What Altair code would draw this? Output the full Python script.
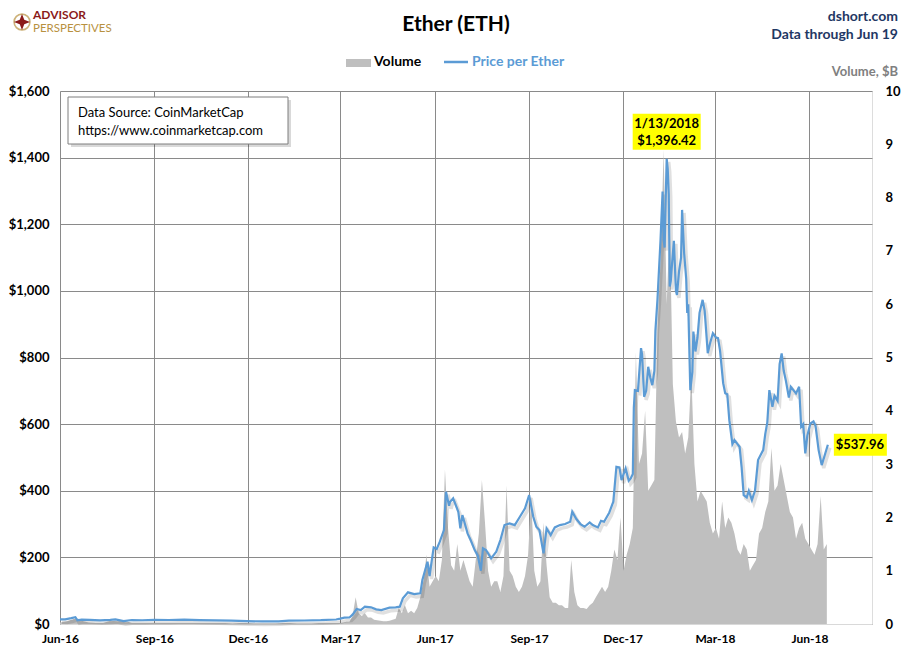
import altair as alt
import pandas as pd

FONT = "Lato"

# ---------------- data ----------------
price_dates = [
    "2016-06-01", "2016-06-06", "2016-06-12", "2016-06-16", "2016-06-18", "2016-06-22", "2016-06-30",
    "2016-07-10", "2016-07-20", "2016-07-25", "2016-08-02", "2016-08-10", "2016-08-20", "2016-09-01",
    "2016-09-15", "2016-09-30", "2016-10-15", "2016-10-31", "2016-11-15", "2016-11-30", "2016-12-15",
    "2016-12-31", "2017-01-10", "2017-01-25", "2017-02-10", "2017-02-25",
    "2017-03-01", "2017-03-05", "2017-03-10", "2017-03-13", "2017-03-17", "2017-03-21", "2017-03-25",
    "2017-03-31", "2017-04-05", "2017-04-10", "2017-04-18", "2017-04-24", "2017-04-28", "2017-05-01",
    "2017-05-06", "2017-05-12", "2017-05-18", "2017-05-20", "2017-05-25", "2017-05-27", "2017-05-31",
    "2017-06-03", "2017-06-06", "2017-06-10", "2017-06-12", "2017-06-15", "2017-06-16", "2017-06-19",
    "2017-06-24", "2017-06-26", "2017-06-28", "2017-07-03", "2017-07-06", "2017-07-10", "2017-07-13",
    "2017-07-16", "2017-07-18", "2017-07-21", "2017-07-26", "2017-07-31", "2017-08-04", "2017-08-08",
    "2017-08-13", "2017-08-18", "2017-08-23", "2017-08-28", "2017-09-01", "2017-09-05", "2017-09-08",
    "2017-09-11", "2017-09-15", "2017-09-18", "2017-09-22", "2017-09-26", "2017-10-01", "2017-10-06",
    "2017-10-11", "2017-10-13", "2017-10-17", "2017-10-21", "2017-10-25", "2017-10-30", "2017-11-02",
    "2017-11-07", "2017-11-10", "2017-11-13", "2017-11-18", "2017-11-22", "2017-11-25", "2017-11-28",
    "2017-11-30", "2017-12-04", "2017-12-07", "2017-12-09", "2017-12-11", "2017-12-12", "2017-12-13",
    "2017-12-16", "2017-12-19", "2017-12-20", "2017-12-22", "2017-12-24", "2017-12-26", "2017-12-28",
    "2017-12-30", "2018-01-01", "2018-01-02", "2018-01-04", "2018-01-07", "2018-01-09", "2018-01-10",
    "2018-01-11", "2018-01-12", "2018-01-13", "2018-01-14", "2018-01-15", "2018-01-16", "2018-01-17",
    "2018-01-18", "2018-01-20", "2018-01-22", "2018-01-23", "2018-01-25", "2018-01-27", "2018-01-28",
    "2018-01-30", "2018-02-01", "2018-02-02", "2018-02-03", "2018-02-05", "2018-02-07", "2018-02-08",
    "2018-02-10", "2018-02-12", "2018-02-14", "2018-02-17", "2018-02-19", "2018-02-22", "2018-02-24",
    "2018-02-27", "2018-03-02", "2018-03-04", "2018-03-06", "2018-03-09", "2018-03-11", "2018-03-13",
    "2018-03-15", "2018-03-18", "2018-03-20", "2018-03-23", "2018-03-25", "2018-03-27", "2018-03-29",
    "2018-04-01", "2018-04-03", "2018-04-06", "2018-04-09", "2018-04-12", "2018-04-15", "2018-04-17",
    "2018-04-19", "2018-04-21", "2018-04-23", "2018-04-26", "2018-04-28", "2018-05-01", "2018-05-03",
    "2018-05-05", "2018-05-07", "2018-05-09", "2018-05-12", "2018-05-14", "2018-05-17", "2018-05-19",
    "2018-05-22", "2018-05-24", "2018-05-26", "2018-05-28", "2018-05-30", "2018-06-02", "2018-06-05",
    "2018-06-07", "2018-06-10", "2018-06-13", "2018-06-16", "2018-06-19",
]
price_values = [
    14.0, 13.8, 17.5, 20.6, 11.2, 13.2, 12.4,
    10.9, 12.5, 14.0, 8.5, 12.0, 11.2, 12.1,
    12.0, 13.2, 11.9, 10.9, 10.0, 8.6, 7.8,
    8.0, 10.4, 10.5, 11.5, 13.5,
    16.0, 19.0, 19.5, 28.0, 45.0, 42.0, 52.0,
    50.0, 44.0, 42.0, 49.0, 50.0, 52.0, 77.0,
    95.0, 90.0, 92.0, 132.0, 187.0, 144.0, 230.0,
    225.0, 247.0, 282.0, 397.0, 355.0, 367.0, 377.0,
    337.0, 287.0, 327.0, 272.0, 252.0, 222.0, 205.0,
    160.0, 227.0, 222.0, 197.0, 217.0, 252.0, 297.0,
    302.0, 297.0, 322.0, 347.0, 387.0, 322.0, 292.0,
    282.0, 212.0, 287.0, 267.0, 290.0, 297.0, 300.0,
    307.0, 337.0, 315.0, 300.0, 292.0, 305.0, 297.0,
    290.0, 310.0, 307.0, 334.0, 367.0, 472.0, 470.0,
    432.0, 467.0, 430.0, 437.0, 450.0, 650.0, 702.0,
    700.0, 828.0, 810.0, 682.0, 700.0, 772.0, 740.0,
    717.0, 760.0, 880.0, 973.0, 1153.0, 1298.0, 1153.0,
    1130.0, 1270.0, 1396.42, 1366.0, 1290.0, 1013.0, 1030.0,
    1073.0, 1150.0, 1000.0, 988.0, 1058.0, 1100.0, 1243.0,
    1113.0, 1036.0, 934.0, 960.0, 702.0, 757.0, 878.0,
    818.0, 860.0, 934.0, 973.0, 940.0, 813.0, 840.0,
    873.0, 860.0, 858.0, 820.0, 723.0, 693.0, 690.0,
    612.0, 540.0, 552.0, 540.0, 532.0, 470.0, 387.0,
    380.0, 400.0, 372.0, 400.0, 492.0, 510.0, 522.0,
    570.0, 605.0, 702.0, 652.0, 685.0, 670.0, 780.0,
    812.0, 760.0, 732.0, 680.0, 712.0, 700.0, 692.0,
    712.0, 592.0, 600.0, 512.0, 565.0, 602.0, 608.0,
    595.0, 522.0, 477.0, 507.0, 537.96,
]

# Volume ($B): weekly readings Jun-2016 .. Feb-2017, starting 2016-06-01
vol_weekly_values = [
    0.03, 0.05, 0.10, 0.06, 0.03,
    0.02, 0.02, 0.06, 0.05,
    0.06, 0.02, 0.02, 0.02, 0.02,
    0.02, 0.02, 0.02, 0.02,
    0.02, 0.02, 0.02, 0.02,
    0.02, 0.02, 0.01, 0.02, 0.02,
    0.01, 0.01, 0.01, 0.01,
    0.02, 0.02, 0.01, 0.01,
    0.01, 0.02, 0.02, 0.02,
]
# Volume ($B): readings every 3 days, starting 2017-03-01
vol_3day_values = [
    0.02, 0.03, 0.04, 0.04, 0.15, 0.50, 0.20, 0.15, 0.20, 0.12, 0.12,   # Mar-17
    0.08, 0.07, 0.06, 0.05, 0.05, 0.06, 0.08, 0.10, 0.30, 0.20,         # Apr-17
    0.35, 0.20, 0.25, 0.20, 0.30, 0.50, 0.80, 1.30, 0.70, 0.80,         # May-17
    0.90, 0.80, 1.20, 2.90, 1.80, 1.10, 1.00, 1.50, 1.00, 1.20,         # Jun-17
    1.00, 0.80, 0.70, 1.20, 1.70, 2.70, 1.90, 1.00, 0.70, 0.80,         # Jul-17
    0.80, 0.60, 0.90, 2.60, 1.00, 0.90, 0.70, 0.60, 0.70, 0.90, 1.30,   # Aug-17
    2.40, 1.00, 0.70, 0.80, 1.90, 1.10, 0.50, 0.40, 0.40, 0.35,         # Sep-17
    0.35, 0.30, 0.30, 1.20, 0.60, 0.35, 0.30, 0.30, 0.28, 0.35,         # Oct-17
    0.40, 0.50, 0.60, 0.70, 0.60, 0.70, 1.00, 1.40, 1.20, 2.00,         # Nov-17
    1.00, 1.30, 1.50, 1.80, 5.10, 3.00, 3.20, 4.00, 2.50, 2.60,         # Dec-17
    2.70, 5.50, 6.80, 8.90, 6.00, 7.50, 4.50, 3.80, 3.50, 3.60, 3.20,   # Jan-18
    3.50, 4.70, 3.00, 2.30, 2.50, 2.40, 2.30, 1.90, 1.70,               # Feb-18
    1.80, 1.60, 2.30, 1.80, 2.00, 1.90, 1.70, 1.40, 1.30, 1.50,         # Mar-18
    1.40, 1.00, 1.10, 1.20, 1.70, 1.80, 2.10, 2.30, 3.30, 2.50,         # Apr-18
    2.60, 3.00, 2.70, 2.40, 2.10, 2.00, 1.60, 1.80, 1.90, 1.60, 1.50,   # May-18
    1.40, 1.30, 1.50, 2.40, 1.40, 1.50,                                 # Jun-18
]

x_tick_dates = [(2016, 6), (2016, 9), (2016, 12), (2017, 3), (2017, 6),
                (2017, 9), (2017, 12), (2018, 3), (2018, 6)]
price_ticks = [0, 200, 400, 600, 800, 1000, 1200, 1400, 1600]
volume_ticks = [0, 1, 2, 3, 4, 5, 6, 7, 8, 9, 10]

peak_date, peak_price = "2018-01-13", 1396.42
last_date, last_price = "2018-06-19", 537.96

# ---------------- frames ----------------
price_df = pd.DataFrame({"date": pd.to_datetime(price_dates), "price": price_values})
vol_dates = list(pd.date_range("2016-06-01", periods=len(vol_weekly_values), freq="7D")) + \
    list(pd.date_range("2017-03-01", periods=len(vol_3day_values), freq="3D"))
vol_df = pd.DataFrame({"date": vol_dates, "volume": vol_weekly_values + vol_3day_values})

peak_df = pd.DataFrame({"date": [pd.Timestamp(peak_date)], "price": [peak_price],
                        "l1": ["1/13/2018"], "l2": ["$1,396.42"]})
last_df = pd.DataFrame({"date": [pd.Timestamp(last_date)], "price": [last_price],
                        "l1": ["$537.96"]})

# ---------------- scales / encodings ----------------
GRID = "#8A8A8A"
x_scale = alt.Scale(domain=[alt.DateTime(year=2016, month=6, date=1),
                            alt.DateTime(year=2018, month=8, date=1)])
x_axis = alt.Axis(values=[alt.DateTime(year=y, month=m, date=1) for y, m in x_tick_dates],
                  format="%b-%y", grid=True, gridColor=GRID, gridWidth=1,
                  domainColor="#D9D9D9", ticks=False, labelPadding=9, labelFlush=False,
                  labelFontSize=12, labelFontWeight="bold", labelColor="#000000",
                  labelFont=FONT, title=None)
X = alt.X("date:T", scale=x_scale, axis=x_axis)

y_price_scale = alt.Scale(domain=[0, 1600])
y_price_axis = alt.Axis(values=price_ticks, format="$,.0f", grid=True, gridColor=GRID,
                        gridWidth=1, domain=False, ticks=False, labelPadding=11,
                        labelFontSize=13, labelFontWeight="bold", labelColor="#000000",
                        labelFont=FONT, title=None, orient="left")
YP = alt.Y("price:Q", scale=y_price_scale, axis=y_price_axis)

vol_axis = alt.Axis(values=volume_ticks, orient="right", grid=False, domain=False,
                    ticks=False, labelPadding=13, labelFontSize=13, labelFontWeight="bold",
                    labelColor="#000000", labelFont=FONT, labelAlign="left", title=None)

volume = alt.Chart(vol_df).mark_area(color="#BFBFBF", interpolate="linear").encode(
    x=X, y=alt.Y("volume:Q", scale=alt.Scale(domain=[0, 10]), axis=vol_axis))

shadow = alt.Chart(price_df).mark_line(color="#000000", opacity=0.12, strokeWidth=3.5,
                                       xOffset=2, yOffset=3).encode(x=X, y=YP)
line = alt.Chart(price_df).mark_line(color="#5B9BD5", strokeWidth=2.2).encode(x=X, y=YP)

peak_box = alt.Chart(peak_df).mark_rect(color="#FFFF00", xOffset=-34, x2Offset=34,
                                        yOffset=-45, y2Offset=-9).encode(
    x=X, x2="date", y=YP, y2="price")
peak_t1 = alt.Chart(peak_df).mark_text(font=FONT, fontSize=13, fontWeight="bold",
                                       color="#000000", dy=-35).encode(x=X, y=YP, text="l1")
peak_t2 = alt.Chart(peak_df).mark_text(font=FONT, fontSize=13, fontWeight="bold",
                                       color="#000000", dy=-18).encode(x=X, y=YP, text="l2")
last_box = alt.Chart(last_df).mark_rect(color="#FFFF00", xOffset=6, x2Offset=59,
                                        yOffset=-11, y2Offset=11).encode(
    x=X, x2="date", y=YP, y2="price")
last_t = alt.Chart(last_df).mark_text(font=FONT, fontSize=13, fontWeight="bold",
                                      color="#000000", dx=32).encode(x=X, y=YP, text="l1")

price_layers = alt.layer(shadow, line, peak_box, peak_t1, peak_t2, last_box, last_t)

# ---------------- decorations (pixel placed) ----------------
one = alt.Data(values=[{}])


def txt(s, x, y, size, color="#000000", weight="normal", align="center", baseline="middle"):
    return alt.Chart(one).mark_text(text=s, font=FONT, fontSize=size, fontWeight=weight,
                                    color=color, align=align, baseline=baseline).encode(
        x=alt.value(x), y=alt.value(y))


def box(x1, x2, y1, y2, fill, stroke=None, opacity=1.0):
    kw = dict(fill=fill, opacity=opacity)
    if stroke:
        kw.update(stroke=stroke, strokeWidth=1)
    return alt.Chart(one).mark_rect(**kw).encode(
        x=alt.value(x1), x2=alt.value(x2), y=alt.value(y1), y2=alt.value(y2))


STAR = "M0,-1L0.28,-0.28L1,0L0.28,0.28L0,1L-0.28,0.28L-1,0L-0.28,-0.28Z"

deco = [
    txt("Ether (ETH)", 396, -66, 21, weight="bold"),
    txt("dshort.com", 838, -74, 14, color="#1F3864", weight="bold", align="right"),
    txt("Data through Jun 19", 838, -56, 14, color="#1F3864", weight="bold", align="right"),
    txt("Volume, $B", 838, -19, 13, color="#808080", weight="bold", align="right"),
    txt("ADVISOR", -27, -76, 12, color="#8B1A1A", weight="bold", align="left"),
    txt("PERSPECTIVES", -27, -62, 11.5, color="#B8913F", align="left"),
    alt.Chart(one).mark_point(shape="circle", size=250, filled=False, color="#B8913F",
                              strokeWidth=1.6).encode(x=alt.value(-38), y=alt.value(-69)),
    alt.Chart(one).mark_point(shape=STAR, size=260, filled=True, color="#8B1A1A",
                              opacity=1).encode(x=alt.value(-38), y=alt.value(-69)),
    box(286, 311, -32, -24, "#BFBFBF"),
    txt("Volume", 314, -29, 14, weight="bold", align="left"),
    alt.Chart(one).mark_rule(color="#5B9BD5", strokeWidth=2.5).encode(
        x=alt.value(384), x2=alt.value(408), y=alt.value(-29)),
    txt("Price per Ether", 412, -29, 14, color="#5B9BD5", weight="bold", align="left"),
    box(11, 231, 9, 56, "#000000", opacity=0.15),
    box(8, 228, 6, 53, "#FFFFFF", stroke="#7F7F7F"),
    txt("Data Source: CoinMarketCap", 18, 22, 13, align="left"),
    txt("https://www.coinmarketcap.com", 18, 40, 13, align="left"),
]

chart = alt.layer(volume, price_layers, *deco).resolve_scale(y="independent").properties(
    width=812, height=533,
    autosize=alt.AutoSizeParams(type="none"),
    padding={"left": 52, "top": 83, "right": 29, "bottom": 26},
).configure_view(stroke=None).configure(background="#FFFFFF")

chart.save("out.html", embed_options={"renderer": "svg", "actions": False})
